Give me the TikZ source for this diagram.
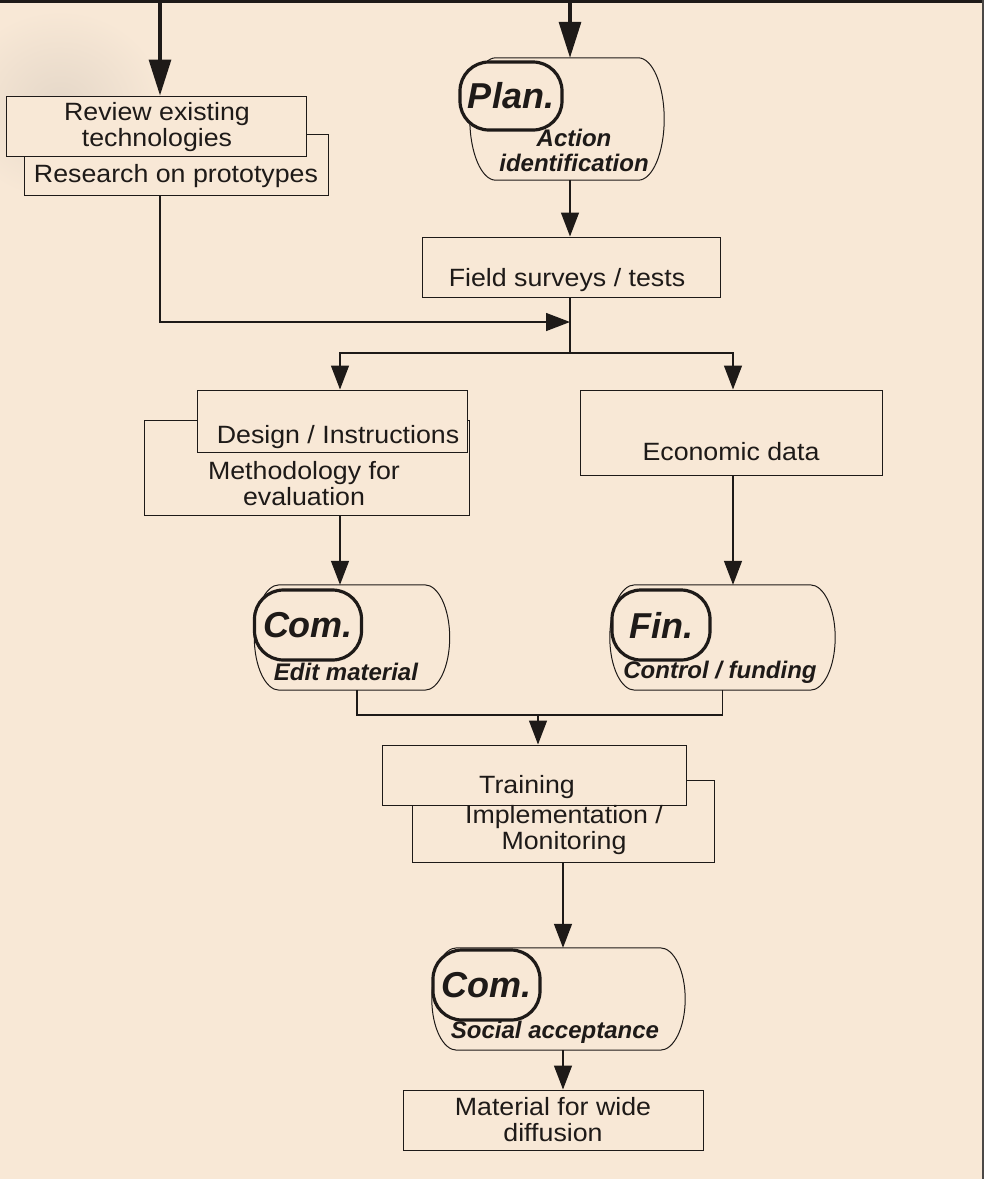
\documentclass[tikz,border=0pt]{standalone}
\usepackage{fontspec}
\setmainfont{Liberation Sans}[FakeStretch=1.07]
\newfontfamily\tagfont{Liberation Sans}
\usetikzlibrary{arrows.meta}

\definecolor{paper}{RGB}{248,232,214}
\definecolor{ink}{RGB}{30,26,24}

% outline of a drum-shaped step: straight top and bottom, bulging ends
\newcommand\drumoutline[3]{% #1 node, #2 bulge, #3 half height
  \draw[drumline]
    ([xshift=#2]#1.north west) -- ([xshift=-#2]#1.north east)
    .. controls +({0.552*#2},0) and +(0,{0.552*#3}) .. (#1.east)
    .. controls +(0,{-0.552*#3}) and +({0.552*#2},0) .. ([xshift=-#2]#1.south east)
    -- ([xshift=#2]#1.south west)
    .. controls +({-0.552*#2},0) and +(0,{-0.552*#3}) .. (#1.west)
    .. controls +(0,{0.552*#3}) and +({-0.552*#2},0) .. ([xshift=#2]#1.north west)
    -- cycle;}

\tikzset{
  box/.style={draw=ink, fill=paper, line width=1pt, inner sep=0pt, rectangle},
  drumbody/.style={draw=none, inner sep=0pt, rectangle},
  drumline/.style={draw=ink, fill=paper, line width=1pt},
  pill/.style={draw=ink, fill=paper, line width=3.2pt, rounded corners=29pt,
    inner sep=0pt, font=\tagfont\bfseries\itshape\fontsize{36}{38}\selectfont, text=ink},
  txt/.style={inner sep=0pt, align=center, text=ink, font=\fontsize{25}{26}\selectfont},
  tag/.style={inner sep=0pt, align=center, text=ink,
    font=\tagfont\bfseries\itshape\fontsize{24}{25}\selectfont},
  link/.style={draw=ink, line width=1.4pt, -{Triangle[length=24pt,width=18pt]}},
  plain/.style={draw=ink, line width=1.4pt},
  feed/.style={draw=ink, line width=3.2pt, -{Triangle[length=36pt,width=22pt]}},
}

\begin{document}
\begin{tikzpicture}[x=1pt,y=1pt]
  \fill[paper] (0,0) rectangle (984,-1179);
  \useasboundingbox (0,0) rectangle (984,-1179);
  % faint grey stain at the upper left
  \shade[inner color=gray!16!paper, outer color=paper] (60,-105) ellipse (105 and 95);

  % frame lines at the top and the right
  \draw[ink, line width=3.2pt] (0,-1.5) -- (984,-1.5);
  \draw[ink!80, line width=2pt] (983,0) -- (983,-1179);
  \coordinate (inA) at (160,-2);
  \coordinate (inB) at (570,-2);

  % left column: review and research
  \node[box, minimum width=304, minimum height=61] (research) at (176,-164.5) {};
  \node[box, minimum width=300, minimum height=60] (review) at (156,-126) {};
  \node[txt] (reviewtxt) at (157,-127) {Review existing\\technologies};
  \node[txt] (researchtxt) at (176,-176) {Research on prototypes};

  % planning step
  \node[drumbody, minimum width=194, minimum height=122] (plan) at (567,-119) {};
  \drumoutline{plan}{26}{61}
  \node[pill, minimum width=102, minimum height=68] (plantag) at (511,-96) {Plan.};
  \node[tag] (plantxt) at (574,-150) {Action\\identification};

  % field surveys
  \node[box, minimum width=298, minimum height=60] (field) at (571,-267) {};
  \node[txt] (fieldtxt) at (567,-280) {Field surveys / tests};

  \coordinate (merge) at (570,-322);
  \coordinate (split) at (570,-353);

  % design and economic branches
  \node[box, minimum width=325, minimum height=95] (method) at (307,-467.5) {};
  \node[box, minimum width=270, minimum height=62] (design) at (332,-421) {};
  \node[txt] (designtxt) at (338,-437) {Design / Instructions};
  \node[txt] (methodtxt) at (304,-484) {Methodology for\\evaluation};

  \node[box, minimum width=302, minimum height=85] (econ) at (731,-432.5) {};
  \node[txt] (econtxt) at (731,-452) {Economic data};

  % communication and finance steps
  \node[drumbody, minimum width=195, minimum height=105] (com) at (352,-637.5) {};
  \drumoutline{com}{25}{52.5}
  \node[pill, minimum width=107, minimum height=70] (comtag) at (308,-625) {Com.};
  \node[tag] (comtxt) at (346,-672) {Edit material};

  \node[drumbody, minimum width=225, minimum height=105] (fin) at (722.5,-637.5) {};
  \drumoutline{fin}{25}{52.5}
  \node[pill, minimum width=98, minimum height=70] (fintag) at (661,-625) {Fin.};
  \node[tag] (fintxt) at (720,-672) {Control / funding};

  \coordinate (join) at (538,-715);

  % training and implementation
  \node[box, minimum width=302, minimum height=82] (impl) at (563,-821) {};
  \node[box, minimum width=304, minimum height=60] (training) at (534,-775) {};
  \node[txt] (trainingtxt) at (527,-787) {Training};
  \node[txt] (impltxt) at (564,-830) {Implementation /\\Monitoring};

  % social acceptance
  \node[drumbody, minimum width=253, minimum height=102] (acc) at (558.5,-999) {};
  \drumoutline{acc}{25}{51}
  \node[pill, minimum width=107, minimum height=70] (acctag) at (486.5,-985) {Com.};
  \node[tag] (acctxt) at (555,-1032) {Social acceptance};

  % final material
  \node[box, minimum width=300, minimum height=60] (material) at (553,-1120) {};
  \node[txt] (materialtxt) at (553,-1120) {Material for wide\\diffusion};

  % connectors
  \draw[feed] (inA) -- (inA |- review.north);
  \draw[feed] (inB) -- (inB |- plan.north);
  \draw[link] (plan.south -| inB) -- (inB |- field.north);
  \draw[link] ([xshift=-16]research.south) |- (merge);
  \draw[plain] (field.south -| merge) -- (split);
  \draw[link] (split) -| ([xshift=8]design.north);
  \draw[link] (split) -| ([xshift=2]econ.north);
  \draw[link] ([xshift=33]method.south) -- ([xshift=-12]com.north);
  \draw[link] ([xshift=2]econ.south) -- ([xshift=2]econ.south |- fin.north);
  \draw[plain] ([xshift=5]com.south) |- (join) -| (fin.south);
  \draw[link] (join) -- (join |- training.north);
  \draw[link] (impl.south) -- (impl.south |- acc.north);
  \draw[link] (acc.south -| impl.south) -- (impl.south |- material.north);
\end{tikzpicture}
\end{document}
